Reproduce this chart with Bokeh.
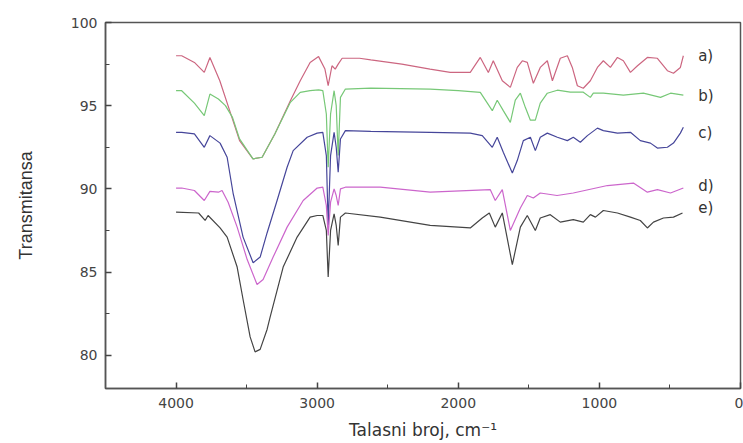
from bokeh.plotting import figure
from bokeh.models import Range1d, FixedTicker, Label
from bokeh.embed import file_html
from bokeh.resources import INLINE

# ---- data (wavenumber cm^-1, transmittance) ----
a_wn = [4000, 3960, 3870, 3800, 3760, 3690, 3620, 3550, 3455, 3390, 3300, 3190, 3120, 3050, 2990,
        2945, 2922, 2895, 2872, 2851, 2823, 2700, 2620, 2400, 2200, 2057, 1915, 1844, 1787, 1752,
        1688, 1631, 1582, 1546, 1511, 1468, 1419, 1369, 1333, 1277, 1227, 1192, 1156, 1114, 1064,
        1014, 972, 922, 872, 830, 780, 730, 660, 589, 518, 475, 426, 405]
a_T = [98.0, 98.0, 97.6, 97.0, 97.9, 96.5, 94.7, 92.9, 91.8, 91.9, 93.3, 95.3, 96.5, 97.6, 97.95,
       97.2, 96.2, 97.4, 97.2, 97.5, 97.85, 97.85, 97.75, 97.5, 97.2, 97.0, 97.0, 97.9, 97.0, 97.7,
       96.5, 96.1, 97.3, 97.7, 97.6, 96.35, 97.3, 97.7, 96.5, 97.85, 98.0, 97.3, 96.2, 96.05, 96.5,
       97.3, 97.7, 97.3, 97.9, 97.7, 97.0, 97.4, 97.9, 97.85, 97.1, 96.95, 97.3, 98.0]

b_wn = [4000, 3960, 3870, 3800, 3760, 3700, 3650, 3600, 3550, 3455, 3390, 3300, 3190, 3120, 3050,
        2990, 2960, 2935, 2922, 2905, 2880, 2865, 2851, 2835, 2800, 2620, 2200, 2000, 1844, 1759,
        1724, 1681, 1631, 1596, 1560, 1525, 1489, 1454, 1419, 1369, 1298, 1206, 1114, 1064, 1043,
        972, 830, 688, 567, 496, 405]
b_T = [95.9, 95.9, 95.15, 94.4, 95.7, 95.4, 95.0, 94.3, 93.0, 91.8, 91.9, 93.3, 95.2, 95.8, 95.9,
       95.95, 95.9, 94.5, 91.3, 94.5, 95.9, 95.0, 92.0, 95.5, 96.0, 96.05, 96.0, 95.9, 95.8, 94.7,
       95.33, 94.7, 94.0, 95.33, 95.75, 94.9, 94.13, 94.13, 95.15, 95.75, 95.93, 95.81, 95.81, 95.5, 95.75,
       95.75, 95.63, 95.75, 95.5, 95.75, 95.63]

c_wn = [4000, 3960, 3870, 3800, 3760, 3688, 3638, 3596, 3525, 3454, 3404, 3355, 3284, 3213, 3170,
        3071, 3000, 2960, 2935, 2922, 2905, 2880, 2865, 2851, 2835, 2800, 2620, 2200, 1915, 1830,
        1759, 1724, 1681, 1617, 1582, 1539, 1489, 1454, 1419, 1369, 1298, 1227, 1185, 1135, 1085,
        1014, 972, 872, 780, 710, 638, 589, 518, 475, 426, 405]
c_T = [93.4, 93.4, 93.3, 92.5, 93.2, 92.75, 91.9, 89.75, 87.1, 85.56, 85.9, 87.35, 89.3, 91.3, 92.3,
       93.1, 93.35, 93.4, 92.0, 87.8, 92.0, 93.4, 92.5, 91.0, 93.0, 93.5, 93.45, 93.4, 93.35, 93.2,
       92.5, 93.1, 92.2, 90.95, 91.7, 92.9, 93.1, 92.3, 93.1, 93.35, 93.1, 92.9, 93.1, 92.8, 93.2,
       93.65, 93.5, 93.35, 93.4, 92.9, 92.75, 92.45, 92.5, 92.75, 93.35, 93.7]

d_wn = [4000, 3960, 3870, 3800, 3760, 3700, 3674, 3631, 3567, 3496, 3426, 3383, 3312, 3213, 3099,
        3000, 2960, 2935, 2922, 2905, 2880, 2865, 2851, 2835, 2800, 2553, 2199, 1773, 1738, 1688,
        1631, 1560, 1511, 1468, 1419, 1300, 1185, 943, 759, 660, 589, 496, 405]
d_T = [90.05, 90.05, 89.9, 89.3, 89.85, 89.8, 89.9, 89.2, 87.7, 85.75, 84.25, 84.55, 85.9, 87.7, 89.3,
       90.05, 90.1, 89.0, 87.2, 89.2, 90.0, 89.6, 89.0, 90.0, 90.1, 90.1, 89.8, 89.95, 89.3, 89.95,
       87.5, 88.85, 89.6, 89.45, 89.75, 89.6, 89.75, 90.2, 90.35, 89.8, 89.95, 89.75, 90.05]

e_wn = [4000, 3840, 3794, 3773, 3688, 3638, 3567, 3525, 3475, 3440, 3404, 3355, 3333, 3241, 3142,
        3050, 3000, 2960, 2935, 2922, 2905, 2880, 2865, 2851, 2835, 2800, 2553, 2199, 1915, 1830,
        1780, 1738, 1688, 1617, 1560, 1511, 1454, 1419, 1348, 1277, 1185, 1114, 1064, 1028, 972,
        872, 780, 710, 660, 617, 546, 475, 411]
e_T = [88.6, 88.55, 88.1, 88.4, 87.65, 87.1, 85.3, 83.35, 81.1, 80.2, 80.35, 81.55, 82.3, 85.3, 87.1,
       88.3, 88.4, 88.4, 87.5, 84.7, 87.5, 88.5, 87.8, 86.6, 88.3, 88.55, 88.3, 87.8, 87.65, 88.25,
       88.55, 87.7, 88.55, 85.45, 87.7, 88.4, 87.5, 88.25, 88.45, 88.0, 88.15, 88.0, 88.45, 88.3, 88.7,
       88.55, 88.3, 88.1, 87.65, 88.0, 88.25, 88.3, 88.55]

series_names = ["a)", "b)", "c)", "d)", "e)"]
series_colors = ["#cc6680", "#77c877", "#46469a", "#cc66cc", "#444444"]
label_T = [98.0, 95.6, 93.35, 90.2, 88.85]
label_wn = 300

x_ticks = [4000, 3000, 2000, 1000, 0]
x_minor = [4500, 3500, 2500, 1500, 500]
y_ticks = [80, 85, 90, 95, 100]
y_minor = [82.5, 87.5, 92.5, 97.5]

p = figure(width=743, height=443, output_backend="svg", toolbar_location=None,
           x_range=Range1d(4500, 0), y_range=Range1d(78, 100),
           min_border_left=105, min_border_right=3, min_border_top=22, min_border_bottom=55)
p.background_fill_color = "white"
p.border_fill_color = "white"
p.outline_line_color = "#555555"
p.outline_line_width = 1.5
p.xgrid.visible = False
p.ygrid.visible = False

for wn, T, col in zip([a_wn, b_wn, c_wn, d_wn, e_wn], [a_T, b_T, c_T, d_T, e_T], series_colors):
    p.line(wn, T, line_color=col, line_width=1.2)

for name, yv in zip(series_names, label_T):
    p.add_layout(Label(x=label_wn, y=yv, text=name, text_font="DejaVu Sans", text_font_size="15px",
                       text_color="#333333", text_baseline="middle", text_align="left"))

p.xaxis.ticker = FixedTicker(ticks=x_ticks, minor_ticks=x_minor)
p.yaxis.ticker = FixedTicker(ticks=y_ticks, minor_ticks=y_minor)

for ax in (p.xaxis[0], p.yaxis[0]):
    ax.axis_line_color = "#555555"
    ax.axis_line_width = 1.5
    ax.major_tick_in = 6
    ax.major_tick_out = 0
    ax.minor_tick_in = 4
    ax.minor_tick_out = 0
    ax.major_tick_line_color = "#444444"
    ax.minor_tick_line_color = "#444444"
    ax.major_tick_line_width = 1.5
    ax.major_label_text_font = "DejaVu Sans"
    ax.major_label_text_font_size = "14px"
    ax.major_label_text_color = "#444444"
    ax.axis_label_text_font_style = "normal"
    ax.axis_label_text_color = "#333333"

p.xaxis.axis_label = "Talasni broj, cm\u207b\u00b9"
p.xaxis.axis_label_text_font = "DejaVu Sans"
p.xaxis.axis_label_text_font_size = "17px"
p.xaxis.major_label_standoff = 9
p.xaxis.axis_label_standoff = 9

p.yaxis.axis_label = "Transmitansa"
p.yaxis.axis_label_text_font = "Liberation Sans"
p.yaxis.axis_label_text_font_size = "18px"
p.yaxis.major_label_standoff = 8
p.yaxis.axis_label_standoff = 32

open("out.html", "w").write(file_html(p, INLINE))
